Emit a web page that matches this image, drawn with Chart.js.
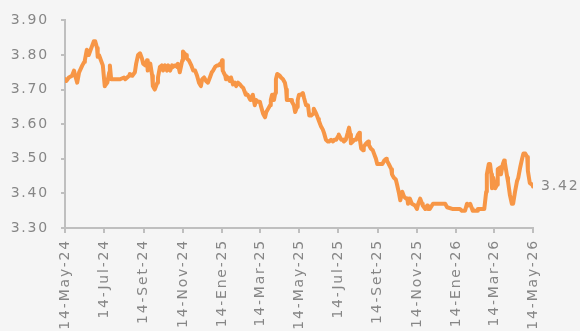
<!DOCTYPE html>
<html>
<head>
<meta charset="utf-8">
<script src="https://cdn.jsdelivr.net/npm/chart.js@4.4.1/dist/chart.umd.min.js"></script>
<style>
    html, body { margin: 0; padding: 0; background: #f5f5f5; }
    canvas { display: block; }
</style>
</head>
<body>
<canvas id="fxChart" width="580" height="331"></canvas>
<script>
// Días transcurridos desde el 14-May-24 y tipo de cambio observado
const dayOffsets = [
    0, 2, 6, 11, 14, 16, 19, 22, 27, 30,
    31, 34, 37, 39, 42, 45, 47, 50, 51, 53,
    56, 59, 61, 62, 66, 69, 70, 72, 76, 81,
    86, 92, 94, 100, 101, 105, 109, 111, 114, 117,
    120, 122, 125, 128, 129, 133, 136, 137, 140, 144,
    145, 148, 151, 153, 156, 159, 161, 164, 167, 168,
    172, 175, 176, 179, 183, 184, 186, 189, 190, 193,
    197, 200, 203, 206, 209, 212, 214, 217, 220, 223,
    226, 229, 231, 234, 237, 239, 242, 243, 245, 246,
    250, 251, 254, 257, 259, 262, 265, 267, 270, 273,
    275, 278, 281, 282, 285, 289, 290, 293, 296, 298,
    301, 304, 306, 309, 312, 314, 317, 320, 321, 323,
    326, 328, 329, 331, 332, 335, 337, 340, 343, 345,
    346, 349, 353, 354, 357, 359, 362, 363, 365, 368,
    371, 373, 376, 379, 381, 384, 387, 388, 392, 395,
    396, 399, 402, 404, 407, 410, 412, 415, 418, 420,
    423, 426, 427, 431, 434, 435, 438, 441, 443, 445,
    446, 449, 451, 454, 457, 459, 460, 462, 465, 466,
    470, 473, 474, 477, 480, 482, 485, 487, 490, 493,
    495, 498, 501, 502, 505, 509, 510, 513, 516, 518,
    521, 523, 526, 529, 532, 534, 535, 538, 541, 546,
    549, 551, 554, 557, 558, 562, 565, 566, 569, 574,
    580, 585, 593, 596, 604, 611, 616, 619, 624, 627,
    629, 632, 635, 636, 643, 644, 650, 654, 657, 658,
    661, 663, 665, 666, 668, 671, 674, 675, 679, 680,
    683, 685, 686, 690, 691, 694, 697, 699, 702, 705,
    707, 710, 713, 715, 718, 721, 722, 725, 729, 730
];

const rates = [
    3.73, 3.725, 3.735, 3.74, 3.755, 3.74, 3.72, 3.75, 3.77, 3.78,
    3.785, 3.815, 3.80, 3.81, 3.825, 3.84, 3.84, 3.82, 3.795, 3.80,
    3.785, 3.77, 3.73, 3.71, 3.72, 3.75, 3.77, 3.73, 3.73, 3.73,
    3.73, 3.735, 3.73, 3.74, 3.745, 3.74, 3.75, 3.775, 3.80, 3.805,
    3.79, 3.775, 3.77, 3.785, 3.755, 3.775, 3.74, 3.71, 3.70, 3.72,
    3.735, 3.765, 3.77, 3.755, 3.77, 3.755, 3.77, 3.755, 3.77, 3.765,
    3.77, 3.765, 3.775, 3.75, 3.785, 3.81, 3.805, 3.80, 3.79, 3.785,
    3.77, 3.755, 3.755, 3.74, 3.72, 3.71, 3.73, 3.735, 3.725, 3.72,
    3.735, 3.75, 3.755, 3.765, 3.77, 3.77, 3.775, 3.77, 3.785, 3.755,
    3.74, 3.73, 3.735, 3.725, 3.735, 3.715, 3.72, 3.71, 3.72, 3.715,
    3.71, 3.705, 3.69, 3.685, 3.685, 3.67, 3.675, 3.685, 3.655, 3.67,
    3.665, 3.665, 3.65, 3.63, 3.62, 3.635, 3.645, 3.655, 3.67, 3.685,
    3.67, 3.69, 3.73, 3.745, 3.745, 3.74, 3.735, 3.73, 3.72, 3.70,
    3.67, 3.67, 3.67, 3.665, 3.655, 3.635, 3.65, 3.67, 3.685, 3.685,
    3.69, 3.675, 3.655, 3.655, 3.625, 3.625, 3.63, 3.645, 3.63, 3.615,
    3.61, 3.595, 3.585, 3.575, 3.555, 3.55, 3.55, 3.555, 3.55, 3.555,
    3.555, 3.565, 3.57, 3.555, 3.555, 3.55, 3.555, 3.575, 3.59, 3.57,
    3.545, 3.55, 3.555, 3.555, 3.57, 3.575, 3.555, 3.53, 3.525, 3.535,
    3.545, 3.55, 3.54, 3.53, 3.525, 3.515, 3.50, 3.485, 3.485, 3.485,
    3.485, 3.495, 3.50, 3.495, 3.485, 3.47, 3.455, 3.445, 3.44, 3.425,
    3.40, 3.38, 3.405, 3.39, 3.385, 3.385, 3.37, 3.385, 3.37, 3.365,
    3.355, 3.37, 3.385, 3.37, 3.365, 3.355, 3.365, 3.355, 3.355, 3.37,
    3.37, 3.37, 3.37, 3.36, 3.355, 3.355, 3.355, 3.35, 3.35, 3.37,
    3.365, 3.37, 3.355, 3.35, 3.35, 3.355, 3.355, 3.355, 3.405, 3.455,
    3.485, 3.485, 3.455, 3.415, 3.445, 3.415, 3.425, 3.47, 3.475, 3.455,
    3.485, 3.495, 3.49, 3.445, 3.435, 3.395, 3.37, 3.37, 3.405, 3.435,
    3.445, 3.475, 3.50, 3.515, 3.515, 3.505, 3.465, 3.43, 3.425, 3.42
];

// Marcas del eje X cada dos meses
const tickDays = [0, 61, 123, 184, 245, 304, 365, 426, 488, 549, 610, 669, 730];
const tickLabels = [
    '14-May-24', '14-Jul-24', '14-Set-24', '14-Nov-24', '14-Ene-25', '14-Mar-25',
    '14-May-25', '14-Jul-25', '14-Set-25', '14-Nov-25', '14-Ene-26', '14-Mar-26', '14-May-26'
];

const AXIS_GREY = '#bfbfbf';
const TEXT_GREY = '#868686';
const LINE_ORANGE = '#f79646';
const FONT = { family: 'DejaVu Sans', size: 14 };
const SPACING = '1.8px';

if (dayOffsets.length !== rates.length) console.error('dayOffsets/rates length mismatch');

const points = dayOffsets.map((d, i) => ({ x: d, y: rates[i] }));

// El texto del gráfico va un poco espaciado
const spacingPlugin = {
    id: 'spacing',
    beforeLayout(chart) { chart.ctx.letterSpacing = SPACING; },
    beforeDraw(chart) { chart.ctx.letterSpacing = SPACING; }
};

// Etiqueta con el último valor a la derecha de la línea
const lastValuePlugin = {
    id: 'lastValue',
    afterDatasetsDraw(chart) {
        const { ctx, scales } = chart;
        const last = points[points.length - 1];
        const x = scales.x.getPixelForValue(last.x) + 8;
        const y = scales.y.getPixelForValue(last.y);
        ctx.save();
        ctx.font = `${FONT.size}px "${FONT.family}"`;
        ctx.fillStyle = TEXT_GREY;
        ctx.textAlign = 'left';
        ctx.textBaseline = 'middle';
        ctx.fillText(last.y.toFixed(2), x, y);
        ctx.restore();
    }
};

new Chart(document.getElementById('fxChart'), {
    type: 'line',
    data: {
        datasets: [{
            data: points,
            borderColor: LINE_ORANGE,
            borderWidth: 4,
            borderJoinStyle: 'round',
            borderCapStyle: 'round',
            pointRadius: 0,
            tension: 0
        }]
    },
    options: {
        responsive: false,
        animation: false,
        events: [],
        layout: { padding: { top: 17, right: 47, left: 0, bottom: 0 } },
        plugins: {
            legend: { display: false },
            tooltip: { enabled: false }
        },
        scales: {
            x: {
                type: 'linear',
                min: 0,
                max: 730,
                afterBuildTicks(scale) {
                    scale.ticks = tickDays.map(v => ({ value: v }));
                },
                afterFit(scale) { scale.height = 103; },
                ticks: {
                    autoSkip: false,
                    maxRotation: 90,
                    minRotation: 90,
                    padding: 6,
                    color: TEXT_GREY,
                    font: FONT,
                    callback: (value, index) => tickLabels[index]
                },
                grid: {
                    drawOnChartArea: false,
                    drawTicks: true,
                    tickLength: 5,
                    color: AXIS_GREY,
                    lineWidth: 2
                },
                border: { color: AXIS_GREY, width: 2 }
            },
            y: {
                min: 3.30,
                max: 3.90,
                afterFit(scale) { scale.width = 65; },
                ticks: {
                    stepSize: 0.1,
                    padding: 12,
                    color: TEXT_GREY,
                    font: FONT,
                    callback: v => v.toFixed(2)
                },
                grid: {
                    drawOnChartArea: false,
                    drawTicks: true,
                    tickLength: 4,
                    color: AXIS_GREY,
                    lineWidth: 2
                },
                border: { color: AXIS_GREY, width: 2 }
            }
        }
    },
    plugins: [spacingPlugin, lastValuePlugin]
});
</script>
</body>
</html>
